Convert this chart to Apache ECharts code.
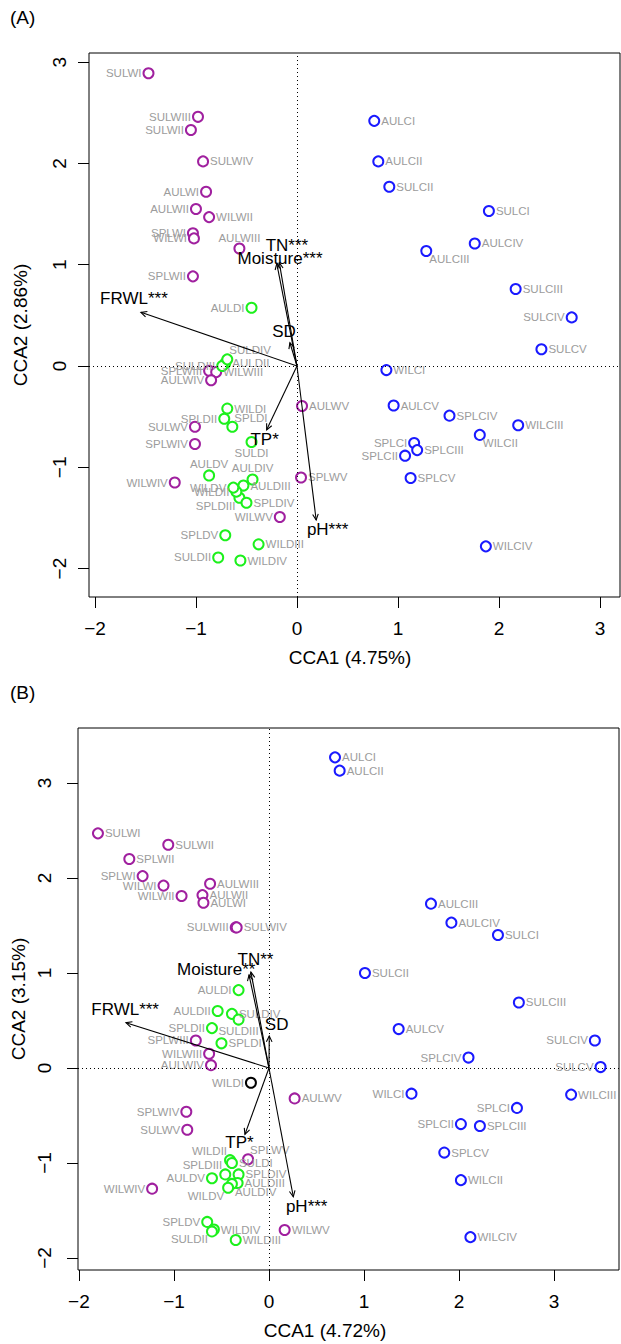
<!DOCTYPE html>
<html><head><meta charset="utf-8">
<script src="https://cdn.jsdelivr.net/npm/echarts@6/dist/echarts.min.js"></script>
<style>html,body{margin:0;padding:0;background:#fff}#c{width:621px;height:1344px}</style>
</head><body><div id="c"></div>
<script>
// ---------------- Panel A data ----------------
const sitesA = ['SULWI','SULWIII','SULWII','SULWIV','AULWI','AULWII','WILWII','SPLWI','WILWI','AULWIII','SPLWII','SPLWIII','WILWIII','AULWIV','SULWV','SPLWIV','WILWIV','AULWV','SPLWV','WILWV',
 'AULDI','AULDII','AULDIII','AULDIV','AULDV','SULDI','SULDII','SULDIII','SULDIV','SPLDI','SPLDII','SPLDIII','SPLDIV','SPLDV','WILDI','WILDII','WILDIII','WILDIV','WILDV',
 'AULCI','AULCII','AULCIII','AULCIV','AULCV','SULCI','SULCII','SULCIII','SULCIV','SULCV','SPLCI','SPLCII','SPLCIII','SPLCIV','SPLCV','WILCI','WILCII','WILCIII','WILCIV'];
const cca1A = [-1.47,-0.98,-1.05,-0.93,-0.90,-1.00,-0.87,-1.03,-1.02,-0.57,-1.03,-0.87,-0.80,-0.85,-1.01,-1.01,-1.21,0.05,0.04,-0.17,
 -0.45,-0.71,-0.53,-0.44,-0.87,-0.45,-0.78,-0.74,-0.69,-0.64,-0.72,-0.57,-0.50,-0.71,-0.69,-0.60,-0.38,-0.56,-0.63,
 0.765,0.805,1.28,1.76,0.957,1.90,0.914,2.165,2.72,2.42,1.16,1.07,1.19,1.51,1.125,0.885,1.81,2.19,1.87];
const cca2A = [2.89,2.46,2.33,2.02,1.72,1.55,1.47,1.31,1.26,1.16,0.885,-0.046,-0.06,-0.14,-0.60,-0.77,-1.15,-0.395,-1.10,-1.49,
 0.575,0.027,-1.18,-1.12,-1.08,-0.75,-1.89,0.0,0.066,-0.60,-0.52,-1.30,-1.35,-1.67,-0.42,-1.24,-1.76,-1.92,-1.20,
 2.42,2.02,1.135,1.21,-0.39,1.53,1.77,0.76,0.48,0.165,-0.76,-0.885,-0.83,-0.49,-1.105,-0.04,-0.68,-0.585,-1.78];
const envNamesA = ['FRWL***','TN***','Moisture***','SD','TP*','pH***'];
const envCca1A = [-1.545,-0.175,-0.20,-0.07,-0.30,0.19];
const envCca2A = [0.53,1.02,1.01,0.23,-0.63,-1.52];
const envLabCca1A = [-1.614,-0.10,-0.168,-0.129,-0.32,0.304];
const envLabCca2A = [0.666,1.185,1.063,0.34,-0.73,-1.61];

// ---------------- Panel B data ----------------
const sitesB = ['SULWI','SULWII','SPLWII','SPLWI','WILWI','AULWIII','WILWII','AULWII','AULWI','SULWIII','SULWIV','SPLWIII','WILWIII','AULWIV','AULWV','SPLWIV','SULWV','SPLWV','WILWIV','WILWV',
 'AULDI','AULDII','SULDIV','SULDIII','SPLDII','SPLDI','WILDI','WILDII','SULDI','SPLDIII','SPLDIV','AULDV','AULDIII','AULDIV','WILDV','SPLDV','WILDIV','SULDII','WILDIII',
 'AULCI','AULCII','AULCIII','AULCIV','SULCI','SULCII','SULCIII','AULCV','SULCIV','SPLCIV','SULCV','WILCI','WILCIII','SPLCI','SPLCII','SPLCIII','SPLCV','WILCII','WILCIV'];
const cca1B = [-1.80,-1.06,-1.47,-1.33,-1.11,-0.62,-0.92,-0.70,-0.69,-0.35,-0.34,-0.77,-0.63,-0.61,0.27,-0.87,-0.86,-0.22,-1.23,0.165,
 -0.32,-0.54,-0.39,-0.32,-0.60,-0.50,-0.19,-0.41,-0.39,-0.46,-0.32,-0.60,-0.33,-0.39,-0.43,-0.65,-0.58,-0.60,-0.35,
 0.695,0.744,1.705,1.92,2.41,1.01,2.63,1.365,3.43,2.10,3.49,1.50,3.18,2.61,2.02,2.22,1.845,2.02,2.12];
const cca2B = [2.47,2.35,2.20,2.02,1.92,1.94,1.81,1.82,1.74,1.48,1.48,0.29,0.15,0.03,-0.32,-0.46,-0.65,-0.96,-1.27,-1.705,
 0.82,0.60,0.57,0.51,0.42,0.26,-0.155,-0.97,-1.00,-1.12,-1.12,-1.16,-1.21,-1.22,-1.26,-1.62,-1.70,-1.72,-1.81,
 3.27,3.13,1.73,1.53,1.40,1.00,0.69,0.41,0.29,0.11,0.01,-0.27,-0.28,-0.42,-0.59,-0.61,-0.89,-1.18,-1.78];
const blackSitesB = ['WILDI'];
const envNamesB = ['FRWL***','TN**','Moisture**','SD','TP*','pH***'];
const envCca1B = [-1.505,-0.19,-0.21,0.003,-0.253,0.256];
const envCca2B = [0.477,1.01,0.98,0.337,-0.698,-1.355];
const envLabCca1B = [-1.514,-0.142,-0.555,0.081,-0.31,0.397];
const envLabCca2B = [0.614,1.147,1.035,0.458,-0.784,-1.453];

const tickValues = [-2,-1,0,1,2,3];

// ---------------- label placement (layout, not data) ----------------
const labelSideA = {SULWI:'l',SULWIII:'l',SULWII:'l',SULWIV:'r',AULWI:'l',AULWII:'l',WILWII:'r',SPLWI:'l',WILWI:'l',AULWIII:'t',SPLWII:'l',SPLWIII:'l',WILWIII:'r',AULWIV:'l',SULWV:'l',SPLWIV:'l',WILWIV:'l',AULWV:'r',SPLWV:'r',WILWV:'l',
 AULDI:'l',AULDII:'r',AULDIII:'r',AULDIV:'t',AULDV:'t',SULDI:'b',SULDII:'l',SULDIII:'l',SULDIV:'tr',SPLDI:'tr',SPLDII:'l',SPLDIII:'bl',SPLDIV:'r',SPLDV:'l',WILDI:'r',WILDII:'l',WILDIII:'r',WILDIV:'r',WILDV:'l',
 AULCI:'r',AULCII:'r',AULCIII:'br',AULCIV:'r',AULCV:'r',SULCI:'r',SULCII:'r',SULCIII:'r',SULCIV:'l',SULCV:'r',SPLCI:'l',SPLCII:'l',SPLCIII:'r',SPLCIV:'r',SPLCV:'r',WILCI:'r',WILCII:'br',WILCIII:'r',WILCIV:'r'};
const labelSideB = {SULWI:'r',SULWII:'r',SPLWII:'r',SPLWI:'l',WILWI:'l',AULWIII:'r',WILWII:'l',AULWII:'r',AULWI:'r',SULWIII:'l',SULWIV:'r',SPLWIII:'l',WILWIII:'l',AULWIV:'l',AULWV:'r',SPLWIV:'l',SULWV:'l',SPLWV:'tr',WILWIV:'l',WILWV:'r',
 AULDI:'l',AULDII:'l',SULDIV:'r',SULDIII:'b',SPLDII:'l',SPLDI:'r',WILDI:'l',WILDII:'tl',SULDI:'r',SPLDIII:'tl',SPLDIV:'r',AULDV:'l',AULDIII:'r',AULDIV:'br',WILDV:'bl',SPLDV:'l',WILDIV:'r',SULDII:'bl',WILDIII:'r',
 AULCI:'r',AULCII:'r',AULCIII:'r',AULCIV:'r',SULCI:'r',SULCII:'r',SULCIII:'r',AULCV:'r',SULCIV:'l',SPLCIV:'l',SULCV:'l',WILCI:'l',WILCIII:'r',SPLCI:'l',SPLCII:'l',SPLCIII:'r',SPLCV:'r',WILCII:'r',WILCIV:'r'};

const FONT = '"Liberation Sans", Arial, sans-serif';
const COLORS = {W:'#a0209f', D:'#1cf01c', C:'#1a1aff', K:'#000000'};
const LABEL_GRAY = '#9c9c9c';

function labelFor(code){
  switch(code){
    case 'l':  return {align:'right', verticalAlign:'middle', offset:[-7,0]};
    case 'r':  return {align:'left', verticalAlign:'middle', offset:[7,0]};
    case 't':  return {align:'center', verticalAlign:'bottom', offset:[0,-5]};
    case 'b':  return {align:'center', verticalAlign:'top', offset:[0,5]};
    case 'tl': return {align:'right', verticalAlign:'bottom', offset:[-3,-3]};
    case 'tr': return {align:'left', verticalAlign:'bottom', offset:[2,-3]};
    case 'bl': return {align:'right', verticalAlign:'top', offset:[-4,2]};
    case 'br': return {align:'left', verticalAlign:'top', offset:[3,2]};
  }
  return {align:'left', verticalAlign:'middle', offset:[7,0]};
}
function groupOf(name, blacks){
  if (blacks && blacks.indexOf(name) >= 0) return 'K';
  if (name.indexOf('LW') >= 0) return 'W';
  if (name.indexOf('LD') >= 0) return 'D';
  return 'C';
}
function siteSeries(gi, sites, xs, ys, sides, blacks){
  const groups = {W:[], D:[], C:[], K:[]};
  sites.forEach((n,i)=>{
    const lab = labelFor(sides[n]);
    groups[groupOf(n, blacks)].push({
      name:n, value:[xs[i], ys[i]],
      label:{show:true, position:'inside', formatter:'{b}', color:LABEL_GRAY, fontSize:11.5, fontFamily:FONT,
        align:lab.align, verticalAlign:lab.verticalAlign, offset:lab.offset}
    });
  });
  return Object.keys(groups).filter(k=>groups[k].length).map(k=>({
    type:'scatter', xAxisIndex:gi, yAxisIndex:gi, symbol:'emptyCircle', symbolSize:10,
    itemStyle:{color:COLORS[k], borderColor:COLORS[k], borderWidth:1.3, opacity:1},
    emphasis:{disabled:true}, silent:true, z:3,
    data:groups[k]
  }));
}
function arrowSeries(gi, names, xs, ys, lx, ly){
  return {
    type:'custom', xAxisIndex:gi, yAxisIndex:gi, silent:true, z:4,
    data: names.map((n,i)=>({name:n, value:[xs[i], ys[i], lx[i], ly[i]]})),
    renderItem: function(params, api){
      const o = api.coord([0,0]);
      const t = api.coord([api.value(0), api.value(1)]);
      const lp = api.coord([api.value(2), api.value(3)]);
      const ang = Math.atan2(t[1]-o[1], t[0]-o[0]);
      const L = 6.5, a = Math.PI/7;
      const p1 = [t[0]-L*Math.cos(ang-a), t[1]-L*Math.sin(ang-a)];
      const p2 = [t[0]-L*Math.cos(ang+a), t[1]-L*Math.sin(ang+a)];
      return {type:'group', children:[
        {type:'line', shape:{x1:o[0],y1:o[1],x2:t[0],y2:t[1]}, style:{stroke:'#000', lineWidth:1.1}},
        {type:'polyline', shape:{points:[p1,t,p2]}, style:{stroke:'#000', fill:null, lineWidth:1.1}},
        {type:'text', x:lp[0], y:lp[1], style:{text:names[params.dataIndex], align:'center', verticalAlign:'middle', font:'17px ' + FONT, fill:'#000'}}
      ]};
    }
  };
}
function refLines(gi){
  return {
    type:'scatter', xAxisIndex:gi, yAxisIndex:gi, data:[], silent:true, z:1,
    markLine:{silent:true, symbol:['none','none'], label:{show:false},
      lineStyle:{color:'#000', width:1, type:[1,3]},
      emphasis:{disabled:true},
      data:[{xAxis:0},{yAxis:0}]}
  };
}
function xAx(gi, min, max, margin){
  return {gridIndex:gi, type:'value', min:min, max:max, splitLine:{show:false},
    axisLine:{show:false, onZero:false},
    axisTick:{show:true, customValues:tickValues, length:11, lineStyle:{color:'#000', width:1}},
    axisLabel:{customValues:tickValues, color:'#000', fontSize:19, fontFamily:FONT, margin:margin,
      formatter:v=>String(v).replace('-','\u2212')}};
}
function yAx(gi, min, max, margin){
  return {gridIndex:gi, type:'value', min:min, max:max, splitLine:{show:false},
    axisLine:{show:false, onZero:false},
    axisTick:{show:true, customValues:tickValues, length:11, lineStyle:{color:'#000', width:1}},
    axisLabel:{customValues:tickValues, color:'#000', fontSize:19, fontFamily:FONT, margin:margin, rotate:90,
      formatter:v=>String(v).replace('-','\u2212')}};
}
function txt(x, y, s, rot){
  return {type:'text', x:x, y:y, rotation:rot||0, style:{text:s, font:'19px ' + FONT, fill:'#000', align:'center', verticalAlign:'middle'}};
}

const chart = echarts.init(document.getElementById('c'), null, {renderer:'svg'});
chart.setOption({
  animation:false,
  backgroundColor:'#fff',
  grid:[
    {left:89, top:53, width:531, height:544, show:true, borderColor:'#000', borderWidth:1, backgroundColor:'transparent'},
    {left:78, top:728, width:541, height:542, show:true, borderColor:'#000', borderWidth:1, backgroundColor:'transparent'}
  ],
  xAxis:[xAx(0, -2.059, 3.198, 22), xAx(1, -2.01, 3.684, 22)],
  yAxis:[yAx(0, -2.28, 3.09, 20), yAx(1, -2.126, 3.579, 24)],
  series:[].concat(
    [refLines(0)],
    siteSeries(0, sitesA, cca1A, cca2A, labelSideA, null),
    [arrowSeries(0, envNamesA, envCca1A, envCca2A, envLabCca1A, envLabCca2A)],
    [refLines(1)],
    siteSeries(1, sitesB, cca1B, cca2B, labelSideB, blackSitesB),
    [arrowSeries(1, envNamesB, envCca1B, envCca2B, envLabCca1B, envLabCca2B)]
  ),
  graphic:[
    {type:'text', left:10, top:8, style:{text:'(A)', font:'19px ' + FONT, fill:'#000'}},
    {type:'text', left:10, top:683, style:{text:'(B)', font:'19px ' + FONT, fill:'#000'}},
    txt(350, 657, 'CCA1 (4.75%)'),
    txt(20, 325, 'CCA2 (2.86%)', Math.PI/2),
    txt(325, 1330, 'CCA1 (4.72%)'),
    txt(18, 999, 'CCA2 (3.15%)', Math.PI/2)
  ]
});
</script></body></html>
